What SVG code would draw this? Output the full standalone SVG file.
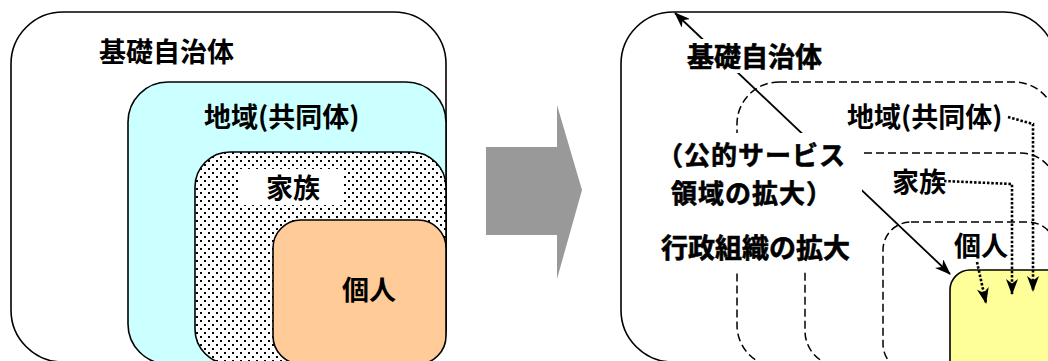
<svg xmlns="http://www.w3.org/2000/svg" width="1048" height="361" viewBox="0 0 1048 361">
<style>
.box{stroke:#000;stroke-width:1.6}
.dash{fill:none;stroke:#000;stroke-width:1.5;stroke-dasharray:8 4}
.t{font-family:"Noto Sans CJK JP","Noto Sans CJK SC",sans-serif;font-weight:bold;font-size:27px;fill:#000}
.th{stroke:#000;stroke-width:0.6}
.sm{font-size:26px;letter-spacing:1px}
.solid{fill:none;stroke:#000;stroke-width:1.8}
.dot{fill:none;stroke:#000;stroke-width:2.6;stroke-dasharray:2.5 1.8}
</style>
<defs>
<pattern id="dots" width="8" height="8" patternUnits="userSpaceOnUse">
<rect width="8" height="8" fill="#fff"/>
<rect x="0" y="0" width="2" height="2" fill="#000"/>
<rect x="4" y="4" width="2" height="2" fill="#000"/>
</pattern>
<marker id="ah" viewBox="0 0 16 12" refX="15" refY="6" markerWidth="16" markerHeight="12" markerUnits="userSpaceOnUse" orient="auto-start-reverse">
<path d="M0,0 L16,6 L0,12 L4.5,6 z" fill="#000"/>
</marker>
</defs>

<!-- Left panel -->
<g id="left-kiso">
<rect class="box" x="11" y="12" width="435" height="350" rx="52" fill="#fff"/>
<text class="t" x="99" y="62">基礎自治体</text>
</g>
<g id="left-chiiki">
<rect class="box" x="128" y="82" width="318" height="282" rx="40" fill="#CCFFFF"/>
<text class="t" x="204" y="127">地域(共同体)</text>
</g>
<g id="left-kazoku">
<rect class="box" x="195" y="152" width="251" height="212" rx="35" fill="url(#dots)"/>
<rect x="240" y="169" width="103" height="36" fill="#fff"/>
<text class="t" x="266" y="198">家族</text>
</g>
<g id="left-kojin">
<rect class="box" x="273" y="220" width="173" height="144" rx="28" fill="#FFCC99"/>
<text class="t" x="342" y="300">個人</text>
</g>

<!-- Big gray arrow -->
<g id="transition-arrow">
<polygon points="486,147 557,147 557,105 582,190 557,279 557,235 486,235" fill="#999999"/>
</g>

<!-- Right panel -->
<g id="right-kiso">
<rect class="box" x="621" y="12" width="435" height="350" rx="52" fill="#fff"/>
</g>
<g id="right-chiiki">
<rect class="dash" x="737" y="82" width="319" height="285" rx="42"/>
</g>
<g id="right-kazoku">
<rect class="dash" x="805" y="153" width="251" height="213" rx="35"/>
</g>
<g id="right-kojin-area">
<rect class="dash" x="883" y="222" width="173" height="150" rx="28"/>
</g>
<g id="right-kojin">
<rect class="box" x="950" y="270" width="130" height="130" rx="20" fill="#FFFF99"/>
</g>

<g id="connectors">
<line class="solid" x1="675" y1="13" x2="950" y2="274" marker-start="url(#ah)" marker-end="url(#ah)"/>
</g>

<g id="right-labels">
<rect x="680" y="39" width="150" height="34" fill="#fff"/>
<text class="t th" x="687" y="67">基礎自治体</text>
<rect x="650" y="133" width="212" height="139" fill="#fff"/>
<text class="t th sm" x="657" y="165">（公的サービス</text>
<text class="t th sm" x="671" y="203">領域の拡大）</text>
<text class="t th" x="661" y="258">行政組織の拡大</text>
<text class="t" x="847" y="127">地域(共同体)</text>
<text class="t" x="892" y="192">家族</text>
<text class="t" x="954" y="256">個人</text>
</g>

<g id="dotted-connectors">
<path class="dot" d="M1008,117 L1033,124 L1033,291" marker-end="url(#ah)"/>
<path class="dot" d="M944,181 L1012,184 L1012,294" marker-end="url(#ah)"/>
<path class="dot" d="M977,262 L986,303" marker-end="url(#ah)"/>
</g>
</svg>
